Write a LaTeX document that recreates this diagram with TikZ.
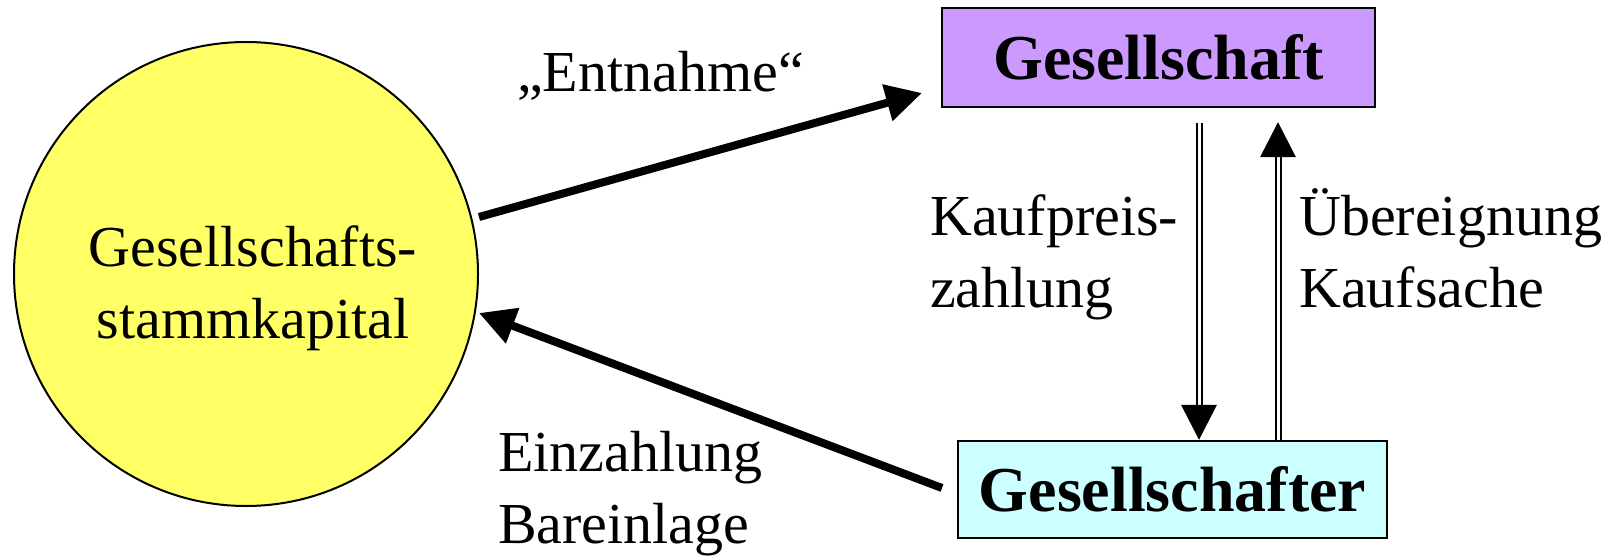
\documentclass[tikz,border=0pt]{standalone}
\usepackage{fontspec}
\setmainfont{Liberation Serif}
\usetikzlibrary{arrows.meta,calc}
\definecolor{gpurple}{HTML}{CC99FF}
\definecolor{gcyan}{HTML}{CCFFFF}
\definecolor{gyellow}{HTML}{FFFF66}
\begin{document}
\begin{tikzpicture}[x=1pt,y=-1pt,
  lbl/.style={font=\fontsize{58}{72}\selectfont, inner sep=0pt, align=left, anchor=base west},
  boxnode/.style={draw, line width=2.5pt, inner sep=0pt, font=\fontsize{64}{72}\selectfont\bfseries},
  thick arrow/.style={line width=8pt, -{Triangle[length=36pt,width=36pt]}},
  dbl/.style={draw, double, double distance=3pt, line width=2pt}]
\useasboundingbox (0,0) rectangle (1617,556);
\node[circle, draw, line width=2pt, fill=gyellow, minimum size=464pt, inner sep=0pt] (kap) at (246,274) {};
\node[lbl, anchor=base, align=center] (kaptext) at (253,338) {Gesellschafts-\\stammkapital};
\node[boxnode, fill=gpurple, minimum width=433pt, minimum height=99pt] (gs) at (1158.5,57.5) {Gesellschaft};
\node[boxnode, fill=gcyan, minimum width=429pt, minimum height=97pt] (gr) at (1172.5,489.5) {Gesellschafter};
\node[lbl] (entn) at (517,92) {„Entnahme“};
\node[lbl] (kauf) at (930,307) {Kaufpreis-\\zahlung};
\node[lbl] (ueber) at (1299,307) {Übereignung\\Kaufsache};
\node[lbl] (einz) at (498,543) {Einzahlung\\Bareinlage};
% thick arrows
\coordinate (e1) at (479,217);
\coordinate (e2) at (922,93);
\draw[thick arrow] (e1) -- (e2);
\coordinate (b1) at (942,488);
\coordinate (b2) at (479,313);
\draw[thick arrow] (b1) -- (b2);
% double arrows
\coordinate (d1) at (gs.south -| 1199,0);
\coordinate (d1) at ($(d1)+(0,15)$);
\coordinate (d2) at (gr.north -| 1199,0);
\draw[dbl, shorten >=34pt] (d1) -- (d2);
\fill (d2) -- ++(-18,-35) -- ++(36,0) -- cycle;
\coordinate (u1) at (gr.north -| 1278,0);
\coordinate (u2) at (gs.south -| 1278,0);
\coordinate (u2) at ($(u2)+(0,14)$);
\draw[dbl, shorten >=34pt] (u1) -- (u2);
\fill (u2) -- ++(-18,35) -- ++(36,0) -- cycle;
\end{tikzpicture}
\end{document}
